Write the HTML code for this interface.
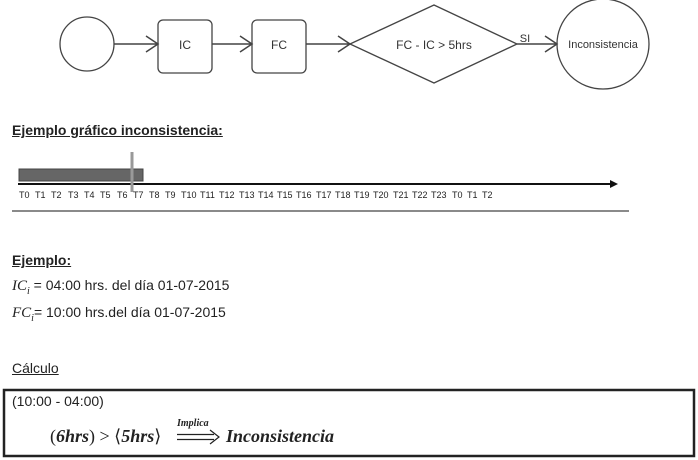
<!DOCTYPE html>
<html><head><style>
body{margin:0;width:698px;height:460px;background:#fff;position:relative;font-family:"Liberation Sans",sans-serif;color:#222;overflow:hidden}
.t{position:absolute;white-space:nowrap}
.m{font-family:"Liberation Serif",serif;font-style:italic}
.tl{position:absolute;top:190px;font-size:9px;color:#222}
</style></head><body>
<svg width="698" height="460" style="position:absolute;left:0;top:0" font-family="Liberation Sans, sans-serif">
<g stroke="#444" stroke-width="1.3" fill="#fff">
<circle cx="87" cy="44" r="27"/>
<rect x="158" y="20" width="54" height="53" rx="5"/>
<rect x="252" y="20" width="54" height="53" rx="5"/>
<polygon points="350,44 434,5 517,44 434,83"/>
<ellipse cx="603" cy="44" rx="46" ry="45"/>
</g>
<g stroke="#444" stroke-width="1.5" fill="none">
<path d="M114 44H158M146 36L158 44L146 52"/>
<path d="M212 44H252M240 36L252 44L240 52"/>
<path d="M306 44H350M338 36L350 44L338 52"/>
<path d="M517 44H557M545 36L557 44L545 52"/>
</g>
<g font-size="12" fill="#333" text-anchor="middle">
<text x="185" y="49">IC</text><text x="279" y="49">FC</text>
<text x="434" y="49">FC - IC &gt; 5hrs</text>
<text x="603" y="48" font-size="11">Inconsistencia</text>
<text x="525" y="42" font-size="11">SI</text>
</g>
<rect x="19" y="169" width="124" height="12" fill="#666" stroke="#444"/>
<line x1="18" y1="184" x2="612" y2="184" stroke="#111" stroke-width="2"/>
<polygon points="618,184 610,180 610,188" fill="#111"/>
<line x1="132" y1="152" x2="132" y2="192" stroke="#999" stroke-width="3"/>
<line x1="12" y1="211" x2="629" y2="211" stroke="#444" stroke-width="1.3"/>
<rect x="4" y="390" width="690" height="66" fill="none" stroke="#222" stroke-width="2.5"/>
<g stroke="#222" stroke-width="1.2" fill="none">
<path d="M177 434.5H214M177 439.5H214M210 430L219 437L210 444"/>
</g>
</svg>
<span class="tl" style="left:19px">T0</span><span class="tl" style="left:35px">T1</span><span class="tl" style="left:51px">T2</span><span class="tl" style="left:68px">T3</span><span class="tl" style="left:84px">T4</span><span class="tl" style="left:100px">T5</span><span class="tl" style="left:117px">T6</span><span class="tl" style="left:133px">T7</span><span class="tl" style="left:149px">T8</span><span class="tl" style="left:165px">T9</span>
<span class="tl" style="left:181px">T10</span><span class="tl" style="left:200px">T11</span><span class="tl" style="left:219px">T12</span><span class="tl" style="left:239px">T13</span><span class="tl" style="left:258px">T14</span><span class="tl" style="left:277px">T15</span><span class="tl" style="left:296px">T16</span><span class="tl" style="left:316px">T17</span><span class="tl" style="left:335px">T18</span><span class="tl" style="left:354px">T19</span><span class="tl" style="left:373px">T20</span><span class="tl" style="left:393px">T21</span><span class="tl" style="left:412px">T22</span><span class="tl" style="left:431px">T23</span><span class="tl" style="left:452px">T0</span><span class="tl" style="left:467px">T1</span><span class="tl" style="left:482px">T2</span>
<div class="t" style="left:12px;top:122px;font-size:14px;font-weight:bold;text-decoration:underline">Ejemplo gráfico inconsistencia:</div>
<div class="t" style="left:12px;top:252px;font-size:14px;font-weight:bold;text-decoration:underline">Ejemplo:</div>
<div class="t" style="left:12px;top:277px;font-size:14px"><span class="m" style="font-size:15px">IC<sub style="font-size:10px">i</sub></span> = 04:00 hrs. del día 01-07-2015</div>
<div class="t" style="left:12px;top:304px;font-size:14px"><span class="m" style="font-size:15px">FC<sub style="font-size:10px">i</sub></span>= 10:00 hrs.del día 01-07-2015</div>
<div class="t" style="left:12px;top:360px;font-size:14px;text-decoration:underline">Cálculo</div>
<div class="t" style="left:12px;top:393px;font-size:14px">(10:00 - 04:00)</div>
<div class="t" style="left:50px;top:426px;font-size:18px;font-family:'Liberation Serif',serif">(<b><i>6hrs</i></b>) &gt; ⟨<b><i>5hrs</i></b>⟩</div>
<div class="t" style="left:177px;top:418px;font-size:10px;font-weight:bold;font-style:italic;font-family:'Liberation Serif',serif">Implica</div>
<div class="t" style="left:226px;top:426px;font-size:18px;font-family:'Liberation Serif',serif"><b><i>Inconsistencia</i></b></div>
</body></html>
